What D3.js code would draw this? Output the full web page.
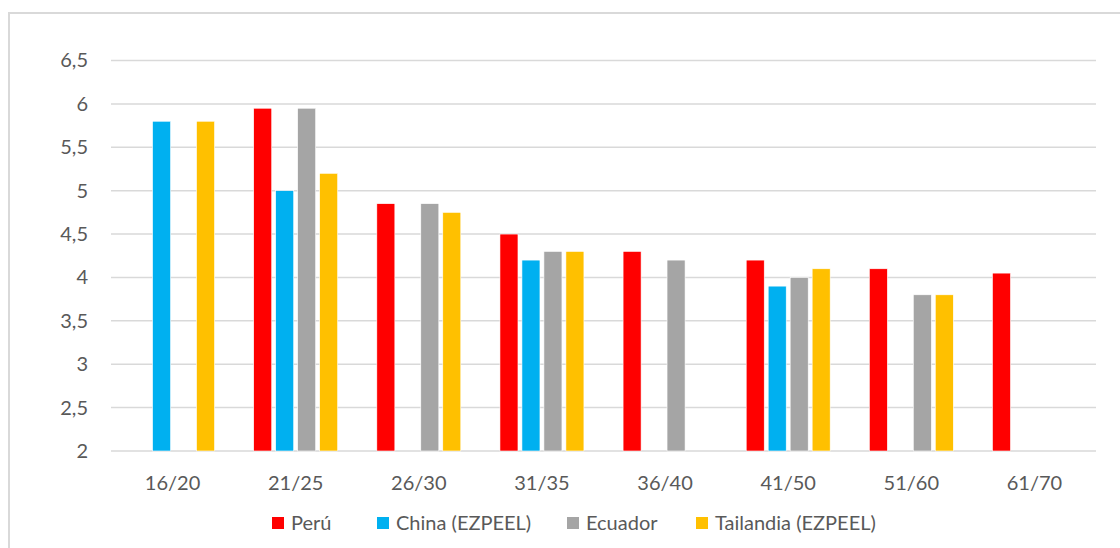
<!DOCTYPE html>
<html>
<head>
<meta charset="utf-8">
<script src="https://cdn.jsdelivr.net/npm/d3@7"></script>
<style>
  body { margin: 0; background: #fff; }
  svg { display: block; }
</style>
</head>
<body>
<svg width="1120" height="548"></svg>
<script>
const width = 1120;
const height = 548;

// Data
const categories = ["16/20", "21/25", "26/30", "31/35", "36/40", "41/50", "51/60", "61/70"];
const seriesNames = ["Perú", "China (EZPEEL)", "Ecuador", "Tailandia (EZPEEL)"];
const seriesColors = ["#ff0000", "#00b0f0", "#a5a5a5", "#ffc000"];
const peru      = [null, 5.95, 4.85, 4.5, 4.3, 4.2, 4.1, 4.05];
const china     = [5.8, 5.0, null, 4.2, null, 3.9, null, null];
const ecuador   = [null, 5.95, 4.85, 4.3, 4.2, 4.0, 3.8, null];
const tailandia = [5.8, 5.2, 4.75, 4.3, null, 4.1, 3.8, null];
const yTicks = [2, 2.5, 3, 3.5, 4, 4.5, 5, 5.5, 6, 6.5];

const seriesValues = [peru, china, ecuador, tailandia];

const font = "Lato, 'Open Sans', sans-serif";
const fontSize = "20px";
const textColor = "#595959";

const plotLeft = 111, plotRight = 1096, plotTop = 60.5, plotBottom = 451;

const svg = d3.select("svg");

// chart border
svg.append("rect")
    .attr("x", 9)
    .attr("y", 13)
    .attr("width", width + 10)
    .attr("height", height + 10)
    .attr("fill", "none")
    .attr("stroke", "#d9d9d9")
    .attr("stroke-width", 2);

// Scales
const x = d3.scaleBand()
    .domain(categories)
    .range([plotLeft, plotRight])
    .paddingInner(0.318)
    .paddingOuter(0.159);

const xInner = d3.scaleBand()
    .domain(seriesNames)
    .range([0, x.bandwidth()])
    .paddingInner(0.18);

const y = d3.scaleLinear()
    .domain([2, 6.5])
    .range([plotBottom, plotTop]);

// Gridlines
svg.append("g")
    .selectAll("line")
    .data(yTicks)
    .enter().append("line")
    .attr("x1", plotLeft)
    .attr("x2", plotRight)
    .attr("y1", d => y(d))
    .attr("y2", d => y(d))
    .attr("stroke", "#d9d9d9")
    .attr("stroke-width", 1.5);

// Y axis labels
const yAxis = d3.axisLeft(y)
    .tickValues(yTicks)
    .tickSize(0)
    .tickPadding(0)
    .tickFormat(d => String(d).replace(".", ","));

const gy = svg.append("g")
    .attr("transform", `translate(88,0)`)
    .call(yAxis);
gy.select(".domain").remove();
gy.selectAll("text")
    .attr("fill", textColor)
    .attr("font-family", font)
    .attr("font-size", fontSize);

// X axis labels
const xAxis = d3.axisBottom(x).tickSize(0).tickPadding(0);
const gx = svg.append("g")
    .attr("transform", `translate(0,${plotBottom})`)
    .call(xAxis);
gx.select(".domain").remove();
gx.selectAll("text")
    .attr("y", 32)
    .attr("dy", "0.35em")
    .attr("fill", textColor)
    .attr("font-family", font)
    .attr("font-size", fontSize);

// Bars
const barData = [];
seriesValues.forEach((vals, si) => {
    vals.forEach((v, ci) => {
        if (v !== null) barData.push({cat: categories[ci], series: seriesNames[si], value: v, color: seriesColors[si]});
    });
});

svg.append("g")
    .selectAll("rect")
    .data(barData)
    .enter().append("rect")
    .attr("x", d => x(d.cat) + xInner(d.series))
    .attr("y", d => y(d.value))
    .attr("width", xInner.bandwidth())
    .attr("height", d => y(2) - y(d.value))
    .attr("fill", d => d.color)
    .attr("stroke", "#fff")
    .attr("stroke-width", 0.6);

// Legend
const legendX = [272, 377, 567, 696];
const legend = svg.append("g");
seriesNames.forEach((name, i) => {
    legend.append("rect")
        .attr("x", legendX[i])
        .attr("y", 517)
        .attr("width", 12)
        .attr("height", 12)
        .attr("fill", seriesColors[i]);
    legend.append("text")
        .attr("x", legendX[i] + 19)
        .attr("y", 523)
        .attr("dy", "0.35em")
        .attr("fill", textColor)
        .attr("font-family", font)
        .attr("font-size", fontSize)
        .text(name);
});
</script>
</body>
</html>
